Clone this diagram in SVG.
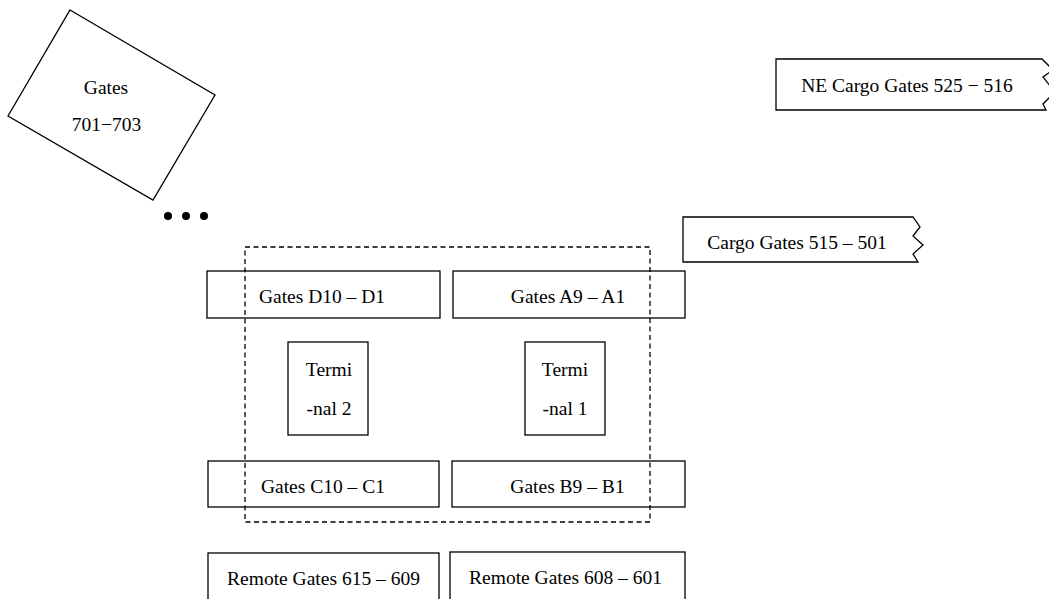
<svg xmlns="http://www.w3.org/2000/svg" width="1049" height="599" viewBox="0 0 1049 599">
<style>
.b{fill:none;stroke:#000;stroke-width:1.3}
.d{fill:none;stroke:#000;stroke-width:1.3;stroke-dasharray:5,3.5}
text{font-family:"Liberation Serif","Times New Roman",serif;font-size:19.5px;fill:#000;text-anchor:middle}
</style>
<rect width="1049" height="599" fill="#fff"/>
<g id="gates701">
<polygon class="b" points="70,10 215,95 153,200 8,116"/>
<text x="106" y="94">Gates</text>
<text x="106.5" y="131">701−703</text>
</g>
<g id="dots">
<circle cx="168" cy="216" r="4"/>
<circle cx="186" cy="216" r="4"/>
<circle cx="204" cy="216" r="4"/>
</g>
<g id="necargo">
<path class="b" d="M1042,59 H776 V110 H1046 L1043,104 L1055,92 L1043,77 L1053,70 Z"/>
<text x="907" y="92">NE Cargo Gates 525 − 516</text>
</g>
<g id="cargo">
<path class="b" d="M913,217 H683 V262 H918 L913,254 L923,245 L913,236 L920,227 Z"/>
<text x="797" y="249">Cargo Gates 515 – 501</text>
</g>
<g id="gatesD">
<rect class="b" x="207" y="271" width="233" height="47"/>
<text x="322" y="303">Gates D10 – D1</text>
</g>
<g id="gatesA">
<rect class="b" x="453" y="271" width="232" height="47"/>
<text x="568" y="303">Gates A9 – A1</text>
</g>
<g id="terminal2">
<rect class="b" x="288" y="342" width="80" height="93"/>
<text x="329" y="376">Termi</text>
<text x="329" y="415">-nal 2</text>
</g>
<g id="terminal1">
<rect class="b" x="525" y="342" width="80" height="93"/>
<text x="565" y="376">Termi</text>
<text x="565" y="415">-nal 1</text>
</g>
<g id="gatesC">
<rect class="b" x="208" y="461" width="231" height="46"/>
<text x="323" y="493">Gates C10 – C1</text>
</g>
<g id="gatesB">
<rect class="b" x="452" y="461" width="233" height="46"/>
<text x="567.5" y="493">Gates B9 – B1</text>
</g>
<g id="remote615">
<rect class="b" x="208" y="553" width="231" height="50"/>
<text x="323.5" y="585">Remote Gates 615 – 609</text>
</g>
<g id="remote608">
<rect class="b" x="450" y="552" width="235" height="50"/>
<text x="565.5" y="584">Remote Gates 608 – 601</text>
</g>
<g id="connectors">
<rect class="d" x="245" y="247" width="405" height="275"/>
</g>
</svg>
